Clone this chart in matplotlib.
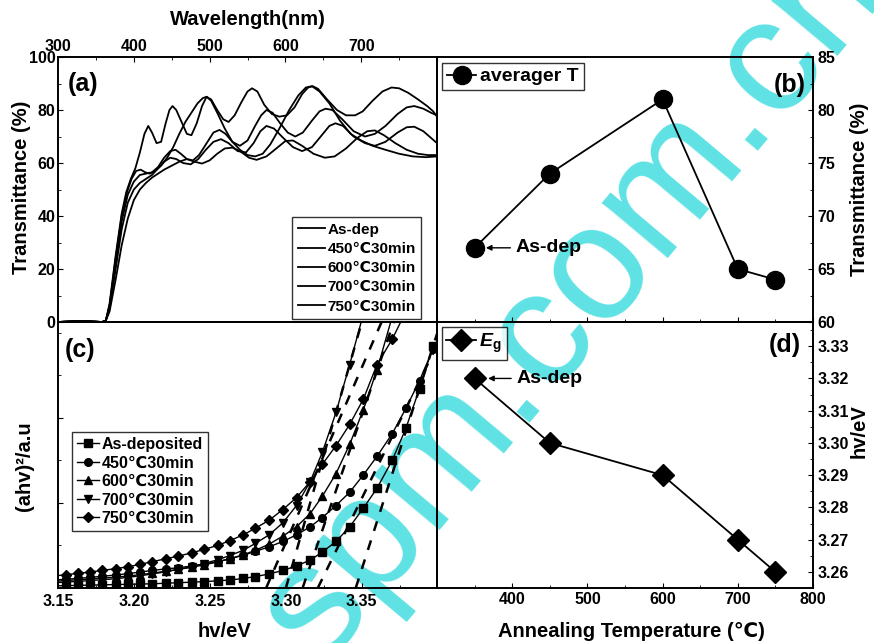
import matplotlib.pyplot as plt
from matplotlib.ticker import MultipleLocator

plt.rcParams['font.family'] = ['Liberation Sans', 'DejaVu Sans']
plt.rcParams['font.weight'] = 'bold'
plt.rcParams['mathtext.fontset'] = 'custom'
plt.rcParams['mathtext.it'] = 'Liberation Sans:bold:italic'
plt.rcParams['mathtext.rm'] = 'Liberation Sans:bold'
plt.rcParams['xtick.direction'] = 'in'
plt.rcParams['ytick.direction'] = 'in'
plt.rcParams['axes.linewidth'] = 1.4

# ---- (a) transmittance spectra: (wavelength nm, T %)
spec_labels = ['As-dep', '450℃30min', '600℃30min', '700℃30min', '750℃30min']
spec_wl = [
    [300, 330, 345, 358, 363, 368, 376, 384, 392, 400, 408, 416, 424, 432, 440, 448, 455, 462, 470, 478,
     486, 495, 505, 513, 521, 530, 540, 550, 560, 568, 575, 583, 593, 603, 613, 623, 635, 645, 653, 662,
     675, 690, 705, 718, 732, 748, 760, 770, 782, 792, 800],
    [300, 330, 345, 358, 363, 368, 376, 384, 391, 397, 403, 409, 415, 421, 428, 436, 444, 452, 460, 468,
     476, 484, 491, 496, 502, 510, 520, 530, 540, 550, 560, 570, 580, 592, 605, 617, 627, 635, 645, 658,
     672, 686, 700, 715, 732, 750, 768, 785, 800],
    [300, 330, 345, 358, 363, 368, 376, 384, 390, 396, 402, 408, 414, 419, 424, 430, 436, 442, 447, 451,
     456, 463, 470, 476, 483, 490, 496, 502, 510, 518, 525, 533, 542, 550, 556, 563, 572, 582, 592, 602,
     612, 622, 630, 636, 643, 655, 668, 680, 692, 702, 715, 728, 740, 750, 762, 775, 787, 795, 800],
    [300, 330, 345, 358, 363, 368, 376, 384, 392, 400, 408, 416, 424, 432, 440, 448, 456, 465, 475, 485,
     495, 505, 515, 525, 537, 548, 558, 567, 575, 585, 597, 610, 622, 635, 648, 658, 666, 676, 690, 705,
     718, 732, 748, 760, 770, 782, 792, 800],
    [300, 330, 345, 358, 363, 368, 376, 384, 392, 400, 408, 416, 424, 432, 440, 450, 460, 470, 480, 490,
     500, 510, 520, 530, 540, 552, 562, 575, 588, 600, 610, 622, 637, 652, 665, 680, 695, 708, 718, 730,
     745, 760, 775, 788, 800],
]
spec_T = [
    [0, 0.4, 0.2, 0, 0.5, 6, 22, 38, 48, 53, 55.5, 56, 56.5, 58.5, 62, 64.5, 65, 63.5, 61.5, 61,
     63, 67, 71.5, 72.5, 71, 68, 66.5, 68.5, 74, 78, 80, 79, 75, 71.5, 70, 71.5, 76, 79.5, 80.5, 80,
     76.5, 72, 70, 71, 74, 78.5, 81, 81.5, 80.5, 79, 78],
    [0, 0.4, 0.2, 0, 0.5, 6, 24, 40, 49, 54, 57, 57.5, 56.5, 56, 57, 59, 62, 66, 71, 75.5,
     79, 82.5, 84.5, 85, 83.5, 79, 73, 68, 65, 63, 62.5, 63.5, 67, 73, 80, 85.5, 88.5, 89, 87, 82.5,
     76, 71, 68.5, 66.5, 65, 63.5, 62.5, 62.2, 62.5],
    [0, 0.4, 0.2, 0, 0.5, 7, 25, 41, 49, 54, 58, 64, 71, 74, 71.5, 67.5, 68, 75, 80, 81.5,
     80, 75.5, 71, 70.5, 75, 81.5, 85, 84, 80, 76.5, 75.5, 78, 83, 87, 88.2, 87, 82, 78.5, 77.5, 78,
     81, 86, 88.5, 89, 88, 84, 80, 78, 78, 79.5, 83.5, 87, 88.5, 88.2, 86.5, 84, 81.5, 79.5, 77.5],
    [0, 0.4, 0.2, 0, 0.5, 5, 20, 35, 45, 50, 52.5, 54, 55.5, 58, 60.5, 62, 61.5, 60, 59.5, 61.5,
     65, 68, 69, 67.5, 64.5, 64, 67.5, 72, 74, 73, 69.5, 66, 64.5, 66, 70.5, 74, 75, 74, 70, 67.5,
     66.5, 68, 71.5, 73.5, 73.7, 72, 69.5, 67.5],
    [0, 0.4, 0.2, 0, 0.5, 4, 16, 29, 39, 46, 50, 52.5, 54.5, 56, 57.5, 59, 60.5, 61.5, 60.5, 59.8,
     61, 63.5, 65.5, 65.8, 64.5, 62, 61.2, 62.5, 65.5, 68.3, 68.5, 66.5, 63.5, 62, 62.5, 65.5, 69.5, 72, 72.3, 70.5,
     67.5, 65, 63.5, 63, 63],
]

# ---- (b) / (d) vs annealing temperature (as-dep plotted at 350)
anneal_temp = [350, 450, 600, 700, 750]
avg_T = [67, 74, 81, 65, 64]
band_gap = [3.32, 3.30, 3.29, 3.27, 3.26]

# ---- (c) Tauc plot, photon energy (eV) and (ahv)^2 in arbitrary units
tauc_labels = ['As-deposited', '450℃30min', '600℃30min', '700℃30min', '750℃30min']
tauc_markers = ['s', 'o', '^', 'v', 'D']
tauc_E = [3.147, 3.155, 3.163, 3.171, 3.179, 3.188, 3.196, 3.204, 3.212, 3.221, 3.229, 3.238, 3.246, 3.255,
          3.263, 3.272, 3.280, 3.289, 3.298, 3.307, 3.316, 3.324, 3.333, 3.342, 3.351, 3.360, 3.370, 3.379,
          3.388, 3.397]
tauc_y = [
    [0.8, 0.9, 1.0, 1.1, 1.2, 1.3, 1.4, 1.5, 1.6, 1.8, 2.0, 2.2, 2.4, 2.7, 3.0, 3.6, 4.3, 5.3, 6.6, 8.3,
     10.5, 13.5, 17.5, 23, 30, 37.5, 48, 60, 75, 91],
    [3.0, 3.3, 3.6, 4.0, 4.4, 4.9, 5.4, 6.0, 6.6, 7.2, 7.6, 8.3, 9.0, 9.9, 11.0, 12.3, 13.8, 15.5, 17.5, 20,
     23, 26.5, 31, 36, 42.5, 49.5, 58, 67.5, 78, 90],
    [2.5, 2.8, 3.1, 3.4, 3.7, 4.1, 4.5, 5.0, 5.6, 6.3, 7.0, 7.8, 8.7, 9.8, 11.0, 12.5, 14.2, 16.5, 19.5, 23,
     28, 34.5, 43, 54, 67, 82, 102],
    [2.0, 2.2, 2.5, 2.8, 3.1, 3.5, 4.0, 4.6, 5.3, 6.1, 7.0, 8.0, 9.2, 10.6, 12.2, 14.2, 16.8, 20.0, 24.5, 31,
     40, 51, 66, 84, 103],
    [4.5, 5.0, 5.5, 6.0, 6.6, 7.3, 8.0, 8.9, 9.9, 11.0, 12.0, 13.2, 14.5, 16.0, 17.8, 20.0, 22.5, 25.5, 29.5, 34,
     40, 46.5, 53.5, 61.5, 71, 84, 93.5, 104],
]
# linear fits: energy where each dashed line meets the bottom and the top of the frame
fit_E0 = [3.346, 3.321, 3.311, 3.300, 3.287]
fit_E1 = [3.402, 3.407, 3.371, 3.350, 3.363]

fig = plt.figure(figsize=(8.74, 6.43), dpi=100)
ax_a = fig.add_axes([0.0664, 0.4992, 0.4336, 0.4121])
ax_b = fig.add_axes([0.5, 0.4992, 0.4302, 0.4121])
ax_c = fig.add_axes([0.0664, 0.0855, 0.4336, 0.4137])
ax_d = fig.add_axes([0.5, 0.0855, 0.4302, 0.4137])
for ax in (ax_a, ax_b, ax_c, ax_d):
    ax.set_facecolor('none')

tick_fs = 11.5

# (a)
for wl, t, lab in zip(spec_wl, spec_T, spec_labels):
    ax_a.plot(wl, t, color='black', lw=1.3, label=lab)
ax_a.set_xlim(300, 800)
ax_a.set_ylim(0, 100)
ax_a.xaxis.tick_top()
ax_a.set_xticks([300, 400, 500, 600, 700, 800])
ax_a.set_xticklabels(['300', '400', '500', '600', '700', ''])
ax_a.xaxis.set_minor_locator(MultipleLocator(50))
ax_a.yaxis.set_major_locator(MultipleLocator(20))
ax_a.yaxis.set_minor_locator(MultipleLocator(10))
ax_a.tick_params(labelsize=tick_fs, pad=2)
ax_a.legend(loc='lower right', bbox_to_anchor=(0.958, 0.012), fontsize=11, frameon=True, fancybox=False,
            edgecolor='black', handlelength=1.8, handletextpad=0.15, labelspacing=0.34, borderpad=0.35,
            borderaxespad=0)
ax_a.text(0.067, 0.9, '(a)', transform=ax_a.transAxes, fontsize=18, ha='center', va='center')

# (b)
ax_b.plot(anneal_temp, avg_T, color='black', lw=1.3, marker='o', ms=13, label='averager T')
ax_b.set_xlim(300, 800)
ax_b.set_ylim(60, 85)
ax_b.yaxis.tick_right()
ax_b.yaxis.set_major_locator(MultipleLocator(5))
ax_b.yaxis.set_minor_locator(MultipleLocator(2.5))
ax_b.xaxis.set_major_locator(MultipleLocator(100))
ax_b.xaxis.set_minor_locator(MultipleLocator(50))
ax_b.tick_params(axis='x', labelbottom=False)
ax_b.tick_params(labelsize=tick_fs, pad=3)
ax_b.legend(loc='upper left', bbox_to_anchor=(0.014, 0.978), fontsize=14, frameon=True, fancybox=False,
            edgecolor='black', handlelength=1.5, handletextpad=0.2, borderpad=0.25, borderaxespad=0)
ax_b.annotate('As-dep', xy=(365, 67), xytext=(405, 67), fontsize=14, ha='left', va='center',
              arrowprops=dict(arrowstyle='-|>', color='black', lw=1, mutation_scale=8, shrinkA=2, shrinkB=0))
ax_b.text(0.939, 0.896, '(b)', transform=ax_b.transAxes, fontsize=18, ha='center', va='center')

# (c)
for E0, E1 in zip(fit_E0, fit_E1):
    ax_c.plot([E0, E1], [0, 100], color='black', lw=1.8, ls=(0, (4, 4)))
for y, mk, lab in zip(tauc_y, tauc_markers, tauc_labels):
    ax_c.plot(tauc_E[:len(y)], y, color='black', lw=1.0, marker=mk, ms=5.5, label=lab)
ax_c.set_xlim(3.15, 3.3995)
ax_c.set_ylim(0, 100)
ax_c.set_xticks([3.15, 3.20, 3.25, 3.30, 3.35])
ax_c.set_xticklabels(['3.15', '3.20', '3.25', '3.30', '3.35'])
ax_c.xaxis.set_minor_locator(MultipleLocator(0.025))
ax_c.set_yticks([32, 64])
ax_c.yaxis.set_minor_locator(MultipleLocator(16))
ax_c.tick_params(axis='y', labelleft=False)
ax_c.tick_params(labelsize=tick_fs, pad=4)
handles, labels = ax_c.get_legend_handles_labels()
ax_c.legend(handles[-5:], labels[-5:], loc='upper left', bbox_to_anchor=(0.037, 0.586), fontsize=11.5,
            frameon=True, fancybox=False, edgecolor='black', handlelength=1.4, handletextpad=0.15,
            labelspacing=0.22, borderpad=0.3, borderaxespad=0)
ax_c.text(0.058, 0.895, '(c)', transform=ax_c.transAxes, fontsize=18, ha='center', va='center')

# (d)
ax_d.plot(anneal_temp, band_gap, color='black', lw=1.3, marker='D', ms=11, label=r'$\mathit{E}_{\mathrm{g}}$')
ax_d.set_xlim(300, 800)
ax_d.set_ylim(3.255, 3.3375)
ax_d.set_xticks([400, 500, 600, 700, 800])
ax_d.xaxis.set_minor_locator(MultipleLocator(50))
ax_d.yaxis.tick_right()
ax_d.set_yticks([3.26, 3.27, 3.28, 3.29, 3.30, 3.31, 3.32, 3.33])
ax_d.set_yticklabels(['3.26', '3.27', '3.28', '3.29', '3.30', '3.31', '3.32', '3.33'])
ax_d.yaxis.set_minor_locator(MultipleLocator(0.005))
ax_d.tick_params(labelsize=tick_fs, pad=3)
ax_d.legend(loc='upper left', bbox_to_anchor=(0.012, 0.982), fontsize=14, frameon=True, fancybox=False,
            edgecolor='black', handlelength=1.5, handletextpad=0.2, borderpad=0.25, borderaxespad=0)
ax_d.annotate('As-dep', xy=(368, 3.32), xytext=(406, 3.32), fontsize=14, ha='left', va='center',
              arrowprops=dict(arrowstyle='-|>', color='black', lw=1, mutation_scale=8, shrinkA=2, shrinkB=0))
ax_d.text(0.924, 0.914, '(d)', transform=ax_d.transAxes, fontsize=18, ha='center', va='center')

# axis titles
fig.text(0.2832, 0.969, 'Wavelength(nm)', fontsize=14.5, ha='center', va='center')
fig.text(0.025, 0.709, 'Transmittance (%)', fontsize=14.5, rotation=90, ha='center', va='center')
fig.text(0.983, 0.705, 'Transmittance (%)', fontsize=14.5, rotation=90, ha='center', va='center')
fig.text(0.028, 0.275, '(ahv)²/a.u', fontsize=14.5, rotation=90, ha='center', va='center')
fig.text(0.983, 0.33, 'hv/eV', fontsize=14.5, rotation=90, ha='center', va='center')
fig.text(0.257, 0.018, 'hv/eV', fontsize=14.5, ha='center', va='center')
fig.text(0.722, 0.018, 'Annealing Temperature (℃)', fontsize=14.5, ha='center', va='center')

# watermark
fig.text(0.655, 0.53, 'spm.com.cn', fontsize=118, color='#5fe2e4', rotation=50, ha='center', va='center',
         fontweight='normal', zorder=-1)

fig.savefig('out.png', dpi=100)
